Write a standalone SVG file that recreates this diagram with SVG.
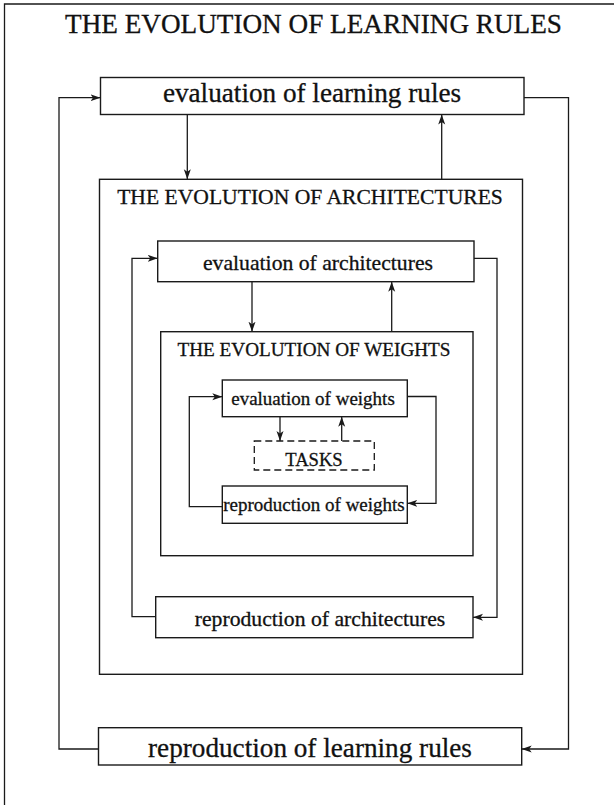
<svg xmlns="http://www.w3.org/2000/svg" width="614" height="805" viewBox="0 0 614 805">
  <style>
    .box { fill: #fff; stroke: #1a1a1a; stroke-width: 1.4; }
    .dash { fill: #fff; stroke: #1a1a1a; stroke-width: 1.3; stroke-dasharray: 7 4; }
    .wire { fill: none; stroke: #1a1a1a; stroke-width: 1.3; }
    .lbl { font-family: "Liberation Serif", "Times New Roman", serif; fill: #111; stroke: #111; stroke-width: 0.3; text-anchor: middle; }
  </style>
  <defs>
    <marker id="arrow" markerUnits="userSpaceOnUse" markerWidth="11" markerHeight="8" refX="10" refY="3.5" orient="auto">
      <path d="M0,0 L10,3.5 L0,7 L2.5,3.5 z" fill="#1a1a1a"/>
    </marker>
  </defs>

  <rect width="614" height="805" fill="#fff"/>

  <!-- outer frame: learning rules level -->
  <g id="frame-learning-rules">
    <path class="wire" d="M4.5,805 V4 H614"/>
    <text class="lbl" x="313.5" y="33" font-size="27.2">THE EVOLUTION OF LEARNING RULES</text>
  </g>

  <g id="eval-learning-rules">
    <rect class="box" x="100.5" y="77.5" width="423.5" height="37"/>
    <text class="lbl" x="312" y="102" font-size="27.2">evaluation of learning rules</text>
  </g>

  <g id="repro-learning-rules">
    <rect class="box" x="98.5" y="727.7" width="423.2" height="37.3"/>
    <text class="lbl" x="310" y="756.5" font-size="27.2">reproduction of learning rules</text>
  </g>

  <!-- architecture level -->
  <g id="frame-architectures">
    <rect class="box" x="99.5" y="179.3" width="423" height="495"/>
    <text class="lbl" x="310" y="204.3" font-size="21.6">THE EVOLUTION OF ARCHITECTURES</text>
  </g>

  <g id="eval-architectures">
    <rect class="box" x="157.7" y="241" width="316.3" height="40.7"/>
    <text class="lbl" x="318" y="270" font-size="21.7">evaluation of architectures</text>
  </g>

  <g id="repro-architectures">
    <rect class="box" x="155.7" y="596.7" width="317.3" height="41"/>
    <text class="lbl" x="320" y="625.5" font-size="21.7">reproduction of architectures</text>
  </g>

  <!-- weight level -->
  <g id="frame-weights">
    <rect class="box" x="160.7" y="331.7" width="312.3" height="224"/>
    <text class="lbl" x="314" y="355.7" font-size="19.2">THE EVOLUTION OF WEIGHTS</text>
  </g>

  <g id="eval-weights">
    <rect class="box" x="222.3" y="380" width="185" height="36.7"/>
    <text class="lbl" x="313" y="405" font-size="19">evaluation of weights</text>
  </g>

  <g id="repro-weights">
    <rect class="box" x="222.3" y="486" width="185" height="37.3"/>
    <text class="lbl" x="314" y="510.5" font-size="19">reproduction of weights</text>
  </g>

  <g id="tasks">
    <rect class="dash" x="254.3" y="441" width="120" height="29"/>
    <text class="lbl" x="314" y="466" font-size="18.6">TASKS</text>
  </g>

  <!-- connectors -->
  <g id="connectors">
    <!-- learning rules loop -->
    <path class="wire" d="M98.5,749 H59 V97.7 H100.5" marker-end="url(#arrow)"/>
    <path class="wire" d="M524,97.7 H568.5 V749 H521.7" marker-end="url(#arrow)"/>
    <path class="wire" d="M187.3,114.5 V179.3" marker-end="url(#arrow)"/>
    <path class="wire" d="M441.7,179.3 V114.5" marker-end="url(#arrow)"/>

    <!-- architectures loop -->
    <path class="wire" d="M155.7,616.7 H132 V258.3 H157.7" marker-end="url(#arrow)"/>
    <path class="wire" d="M474,258.3 H497 V617.3 H473" marker-end="url(#arrow)"/>
    <path class="wire" d="M252,281.7 V331.7" marker-end="url(#arrow)"/>
    <path class="wire" d="M391.7,331.7 V281.7" marker-end="url(#arrow)"/>

    <!-- weights loop -->
    <path class="wire" d="M222.3,506.7 H189.3 V396.7 H222.3" marker-end="url(#arrow)"/>
    <path class="wire" d="M407.3,396.5 H436 V503.3 H407.3" marker-end="url(#arrow)"/>
    <path class="wire" d="M280,416.7 V441" marker-end="url(#arrow)"/>
    <path class="wire" d="M341.7,441 V416.7" marker-end="url(#arrow)"/>
  </g>
</svg>
